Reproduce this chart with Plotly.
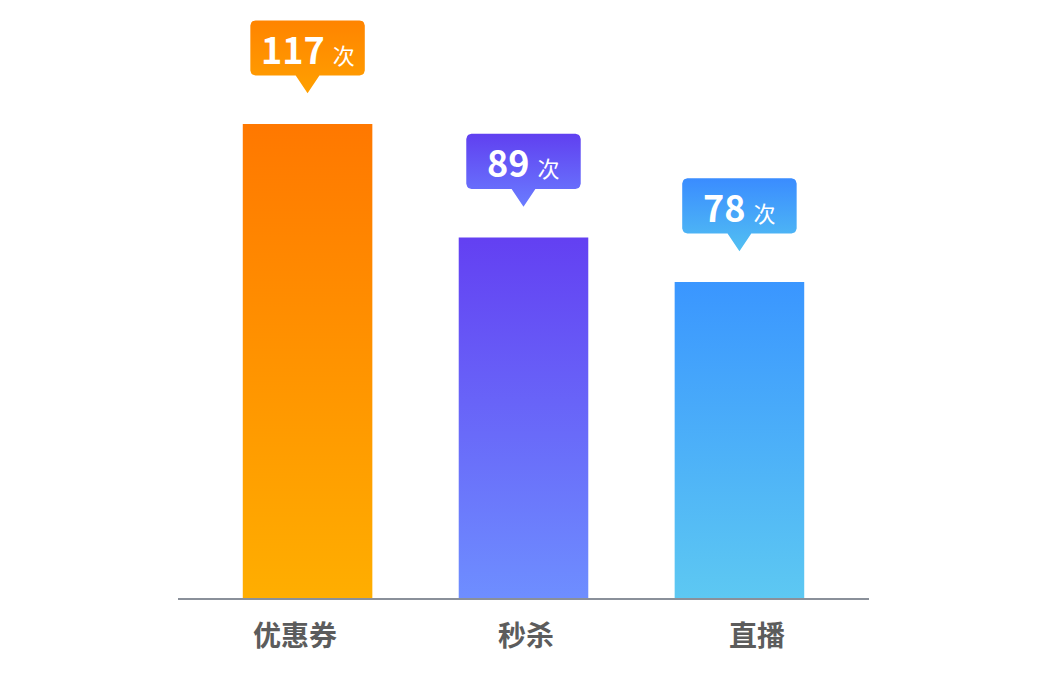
import numpy as np
import plotly.graph_objects as go

# data
categories = ['优惠券', '秒杀', '直播']
counts = [117, 89, 78]
unit = '次'

# gradient colours per bar (bottom, top)
bar_bottom = ['#FFAE00', '#6E8EFF', '#5DC8F2']
bar_top = ['#FF7800', '#6340F2', '#3A96FF']
tip_bottom = ['#FFA000', '#6A7CFF', '#52C0F2']
tip_top = ['#FF8400', '#6040F0', '#3A8CFF']

BAR_W = 0.6
BOX_W = 0.53
BOX_GAP = 12.0     # from bar top to box bottom
BOX_H = 13.6
TIP_H = 4.4
TIP_W = 0.055
RX, RY = 0.024, 1.25   # corner radius in x / y data units


def corner(cx, cy, a0, a1):
    t = np.linspace(a0, a1, 6)
    return list(cx + RX * np.cos(t)), list(cy + RY * np.sin(t))


fig = go.Figure()

for i, (cat, v) in enumerate(zip(categories, counts)):
    # bar as a filled polygon so it can take a vertical gradient
    x0, x1 = i - BAR_W / 2, i + BAR_W / 2
    fig.add_trace(go.Scatter(
        x=[x0, x0, x1, x1, x0],
        y=[0, v, v, 0, 0],
        mode='lines',
        line=dict(width=0),
        fill='toself',
        fillgradient=dict(type='vertical',
                          colorscale=[[0, bar_bottom[i]], [1, bar_top[i]]]),
        hoverinfo='skip',
        showlegend=False,
    ))

    # callout box with rounded corners and pointer
    bx0, bx1 = i - BOX_W / 2, i + BOX_W / 2
    yb = v + BOX_GAP
    yt = yb + BOX_H
    ytip = yb - TIP_H
    xs, ys = [], []
    for cx, cy, a0, a1 in [(bx0 + RX, yb + RY, 1.5 * np.pi, np.pi),
                           (bx0 + RX, yt - RY, np.pi, 0.5 * np.pi),
                           (bx1 - RX, yt - RY, 0.5 * np.pi, 0),
                           (bx1 - RX, yb + RY, 0, -0.5 * np.pi)]:
        cxs, cys = corner(cx, cy, a0, a1)
        xs += cxs
        ys += cys
    xs += [i + TIP_W, i, i - TIP_W, xs[0]]
    ys += [yb, ytip, yb, ys[0]]
    fig.add_trace(go.Scatter(
        x=xs, y=ys,
        mode='lines',
        line=dict(width=0),
        fill='toself',
        fillgradient=dict(type='vertical',
                          colorscale=[[0, tip_bottom[i]], [1, tip_top[i]]]),
        hoverinfo='skip',
        showlegend=False,
    ))

    fig.add_annotation(
        x=i, y=yb + BOX_H / 2,
        text='<b>%d</b> <span style="font-size:22px">%s</span>' % (v, unit),
        showarrow=False,
        font=dict(family='Noto Sans CJK SC', size=36, color='white'),
        xanchor='center', yanchor='middle',
    )

# category labels sit on a slightly wider spacing than the bars
fig.add_trace(go.Scatter(
    x=categories, y=[0] * len(categories),
    xaxis='x2', mode='markers', marker=dict(opacity=0),
    hoverinfo='skip', showlegend=False,
))

fig.update_layout(
    width=1045,
    height=674,
    paper_bgcolor='white',
    plot_bgcolor='white',
    margin=dict(l=170, r=184, t=12, b=84),
    showlegend=False,
    xaxis=dict(
        range=[-0.6, 2.6],
        showticklabels=False,
        showgrid=False,
        zeroline=False,
        showline=True,
        linecolor='#8a909a',
        linewidth=2,
        ticks='',
        fixedrange=True,
    ),
    xaxis2=dict(
        overlaying='x',
        side='bottom',
        type='category',
        range=[-0.506, 2.485],
        tickfont=dict(family='Noto Sans CJK SC', size=28, color='#5c5c5c',
                      weight='bold'),
        ticklabelstandoff=19,
        showgrid=False,
        zeroline=False,
        showline=False,
        ticks='',
        fixedrange=True,
    ),
    yaxis=dict(
        range=[0, 142.7],
        visible=False,
        showgrid=False,
        zeroline=False,
        fixedrange=True,
    ),
)

fig.write_html('out.html')
